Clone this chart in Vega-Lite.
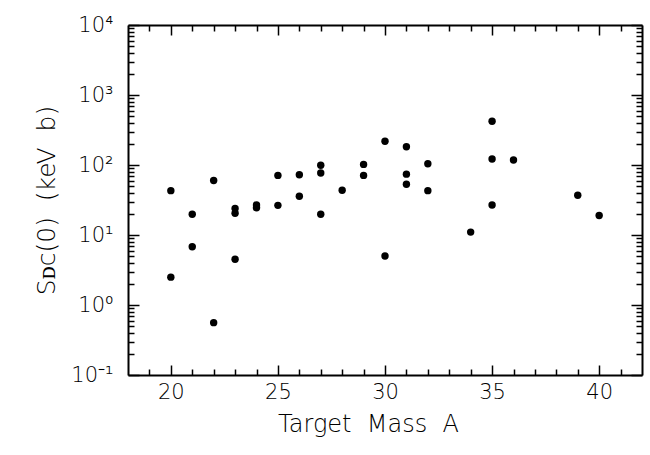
{
  "$schema": "https://vega.github.io/schema/vega-lite/v6.json",
  "autosize": {"type": "none"},
  "width": 514,
  "height": 350,
  "padding": {"left": 128, "top": 25, "right": 8, "bottom": 80},
  "background": "white",
  "config": {
    "view": {"stroke": null},
    "axis": {
      "domainColor": "black", "domainWidth": 2, "tickColor": "black", "tickWidth": 1.5,
      "labelFont": "DejaVu Sans", "labelFontWeight": 200, "labelFontSize": 21, "labelColor": "black",
      "titleFont": "DejaVu Sans", "titleFontWeight": 200, "titleFontSize": 24, "titleColor": "black",
      "grid": false, "labelOverlap": false, "labelBound": false, "labelFlush": false
    }
  },
  "data": {"values": [
    {"A": 20, "S": 43}, {"A": 20, "S": 2.5},
    {"A": 21, "S": 19.8}, {"A": 21, "S": 6.8},
    {"A": 22, "S": 60}, {"A": 22, "S": 0.56},
    {"A": 23, "S": 24}, {"A": 23, "S": 20.4}, {"A": 23, "S": 4.5},
    {"A": 24, "S": 26.8}, {"A": 24, "S": 24.5},
    {"A": 25, "S": 71}, {"A": 25, "S": 26.5},
    {"A": 26, "S": 72.6}, {"A": 26, "S": 35.7},
    {"A": 27, "S": 99}, {"A": 27, "S": 77}, {"A": 27, "S": 19.8},
    {"A": 28, "S": 43.6},
    {"A": 29, "S": 102}, {"A": 29, "S": 71},
    {"A": 30, "S": 218}, {"A": 30, "S": 5.0},
    {"A": 31, "S": 182}, {"A": 31, "S": 74}, {"A": 31, "S": 53},
    {"A": 32, "S": 104}, {"A": 32, "S": 43},
    {"A": 34, "S": 11.0},
    {"A": 35, "S": 421}, {"A": 35, "S": 122}, {"A": 35, "S": 26.8},
    {"A": 36, "S": 118},
    {"A": 39, "S": 37},
    {"A": 40, "S": 19}
  ]},
  "resolve": {"axis": {"x": "independent", "y": "independent"}},
  "layer": [
    {
      "mark": {"type": "point", "filled": true, "color": "black", "opacity": 1, "size": 55},
      "encoding": {
        "x": {"field": "A", "type": "quantitative",
          "scale": {"domain": [18, 42], "nice": false, "zero": false},
          "axis": {"orient": "bottom", "title": "Target\u00a0\u00a0Mass\u00a0\u00a0A", "titleX": 240, "titlePadding": 6,
            "values": [19,20,21,22,23,24,25,26,27,28,29,30,31,32,33,34,35,36,37,38,39,40,41],
            "labelExpr": "datum.value % 5 === 0 ? datum.label : ''",
            "tickSize": {"condition": {"test": "datum.value % 5 === 0", "value": -10}, "value": -6},
            "labelPadding": 16}},
        "y": {"field": "S", "type": "quantitative",
          "scale": {"type": "log", "domain": [0.1, 10000], "nice": false},
          "axis": {"orient": "left", "title": "S\u1d05\u1d04(0)\u00a0\u00a0(keV\u00a0\u00a0b)", "titlePadding": 11, "titleFontSize": 25,
            "values": [0.1,0.2,0.3,0.4,0.5,0.6,0.7,0.8,0.9,1,2,3,4,5,6,7,8,9,10,20,30,40,50,60,70,80,90,100,200,300,400,500,600,700,800,900,1000,2000,3000,4000,5000,6000,7000,8000,9000,10000],
            "labelExpr": "abs(log(datum.value)/LN10 - round(log(datum.value)/LN10)) < 0.000001 ? '10' + ['⁻¹','⁰','¹','²','³','⁴'][round(log(datum.value)/LN10) + 1] : ''",
            "tickSize": {"condition": {"test": "abs(log(datum.value)/LN10 - round(log(datum.value)/LN10)) < 0.000001", "value": -11}, "value": -6},
            "labelPadding": 26}}
      }
    },
    {
      "mark": {"type": "point", "filled": true, "color": "black", "opacity": 0, "size": 55},
      "encoding": {
        "x": {"field": "A", "type": "quantitative",
          "axis": {"orient": "top", "title": null, "labels": false,
            "values": [19,20,21,22,23,24,25,26,27,28,29,30,31,32,33,34,35,36,37,38,39,40,41],
            "tickSize": {"condition": {"test": "datum.value % 5 === 0", "value": -10}, "value": -6}}},
        "y": {"field": "S", "type": "quantitative",
          "axis": {"orient": "right", "title": null, "labels": false,
            "values": [0.1,0.2,0.3,0.4,0.5,0.6,0.7,0.8,0.9,1,2,3,4,5,6,7,8,9,10,20,30,40,50,60,70,80,90,100,200,300,400,500,600,700,800,900,1000,2000,3000,4000,5000,6000,7000,8000,9000,10000],
            "tickSize": {"condition": {"test": "abs(log(datum.value)/LN10 - round(log(datum.value)/LN10)) < 0.000001", "value": -11}, "value": -6}}}
      }
    }
  ]
}
